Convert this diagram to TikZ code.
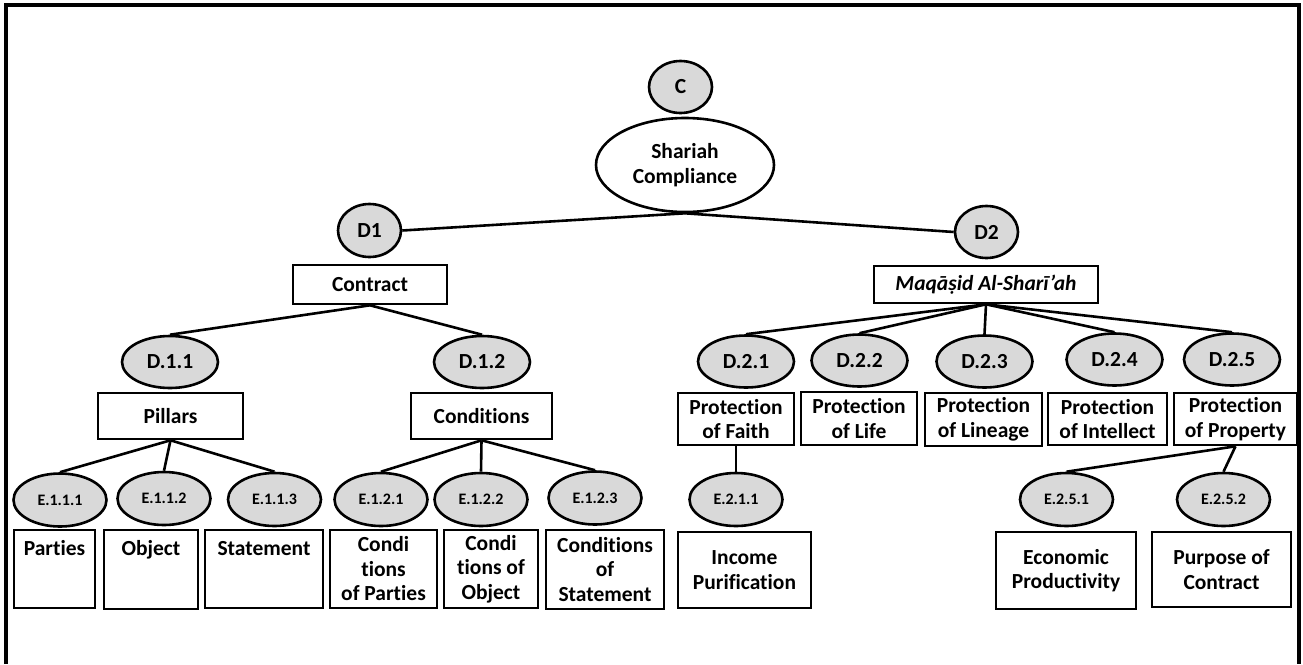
\documentclass[tikz,border=0pt]{standalone}
\usepackage{fontspec}
\setmainfont[Ligatures=CommonOff]{Carlito}
\usetikzlibrary{shapes.geometric}

\begin{document}
\begin{tikzpicture}[x=1pt,y=-1pt,
		every node/.style={font=\bfseries\fontsize{21.5}{24.5}\selectfont,line width=2.6pt,inner sep=1pt},
		code/.style={draw,ellipse,fill=codegray,minimum width=96pt,minimum height=52pt},
		small/.style={code,minimum width=93pt,minimum height=53pt,font=\bfseries\fontsize{16}{19}\selectfont},
		box/.style={draw,rectangle,align=center},
		toptext/.style={text height=19pt,text depth=47pt,inner sep=6pt},
		link/.style={line width=2.6pt}]
		\definecolor{codegray}{HTML}{D9D9D9}
		\useasboundingbox (0,0) rectangle (1303,664);
		% frame
		\draw[line width=3.6pt] (6,664) -- (6,5) -- (1299,5) -- (1299,664);
		% top
		\node[code,minimum width=63pt,minimum height=52pt] (c) at (680.5,87) {C};
		\node[draw,ellipse,align=center,minimum width=178pt,minimum height=94pt] (sc) at (685,165) {Shariah\\Compliance};
		\node[code,minimum width=63pt,minimum height=53pt] (d1) at (369.5,230.5) {D1};
		\node[code,minimum width=63pt,minimum height=52pt] (d2) at (986.5,232) {D2};
		\node[box,minimum width=154pt,minimum height=39pt] (contract) at (370,284.5) {Contract};
		\node[box,minimum width=224pt,minimum height=37pt] (maqasid) at (986,284.5) {\itshape Maqāṣid Al-Sharī’ah};
		% Contract
		\node[code] (d11) at (170,362) {D.1.1};
		\node[code] (d12) at (482,362) {D.1.2};
		\node[box,minimum width=145pt,minimum height=46pt] (pillars) at (170.5,416) {Pillars};
		\node[box,minimum width=141pt,minimum height=46pt] (conds) at (481.5,416) {Conditions};
		\node[small] (e111) at (60,500) {E.1.1.1};
		\node[small] (e112) at (164,498.5) {E.1.1.2};
		\node[small] (e113) at (274.5,499.5) {E.1.1.3};
		\node[small] (e121) at (381,499.5) {E.1.2.1};
		\node[small] (e122) at (481,499.5) {E.1.2.2};
		\node[small] (e123) at (595,498) {E.1.2.3};
		\node[box,toptext,minimum width=81pt,minimum height=76pt] (parties) at (54.5,569) {Parties};
		\node[box,toptext,minimum width=94pt,minimum height=79pt] (object) at (151,569.5) {Object};
		\node[box,toptext,minimum width=118pt,minimum height=78pt] (statement) at (264,569) {Statement};
		\node[box,minimum width=107pt,minimum height=78pt] (condparties) at (383.5,569) {Condi\\tions\\of Parties};
		\node[box,minimum width=94pt,minimum height=78pt] (condobject) at (491,569) {Condi\\tions of\\Object};
		\node[box,minimum width=118pt,minimum height=79pt] (condstatement) at (605,569.5) {Conditions\\of\\Statement};
		% Maqasid
		\node[code] (d21) at (746,361.5) {D.2.1};
		\node[code] (d22) at (859.5,360.5) {D.2.2};
		\node[code] (d23) at (984.5,361.5) {D.2.3};
		\node[code] (d24) at (1114.5,359.5) {D.2.4};
		\node[code] (d25) at (1232,359.5) {D.2.5};
		\node[box,minimum width=116pt,minimum height=52pt] (faith) at (736,419) {Protection\\of Faith};
		\node[box,minimum width=116pt,minimum height=53pt] (life) at (859,418.5) {Protection\\of Life};
		\node[box,minimum width=117pt,minimum height=53pt] (lineage) at (983.5,419.5) {Protection\\of Lineage};
		\node[box,minimum width=119pt,minimum height=52pt] (intellect) at (1107.5,419) {Protection\\of Intellect};
		\node[box,minimum width=123pt,minimum height=52pt] (property) at (1235.5,419) {Protection\\of Property};
		\node[small] (e211) at (736,499.5) {E.2.1.1};
		\node[small] (e251) at (1066.5,499.5) {E.2.5.1};
		\node[small] (e252) at (1223.5,499.5) {E.2.5.2};
		\node[box,minimum width=133pt,minimum height=76pt] (income) at (744.5,570) {Income\\Purification};
		\node[box,minimum width=140pt,minimum height=77pt] (economic) at (1066,570.5) {Economic\\Productivity};
		\node[box,minimum width=139pt,minimum height=75pt] (purpose) at (1221.5,569.5) {Purpose of\\Contract};
		% links
		\draw[link] (sc.south) -- (d1.east);
		\draw[link] (sc.south) -- (d2.west);
		\draw[link] (contract.south) -- (d11.north);
		\draw[link] (contract.south) -- (d12.north);
		\draw[link] (pillars.south) -- (e111.north);
		\draw[link] (pillars.south) -- (e112.north);
		\draw[link] (pillars.south) -- (e113.north);
		\draw[link] (conds.south) -- (e121.north);
		\draw[link] (conds.south) -- (e122.north);
		\draw[link] (conds.south) -- (e123.north);
		\draw[link] (maqasid.south) -- (d21.north);
		\draw[link] (maqasid.south) -- (d22.north);
		\draw[link] (maqasid.south) -- (d23.north);
		\draw[link] (maqasid.south) -- (d24.north);
		\draw[link] (maqasid.south) -- (d25.north);
		\draw[link] (faith.south) -- (e211.north);
		\draw[link] (property.south) -- (e251.north);
		\draw[link] (property.south) -- (e252.north);
\end{tikzpicture}
\end{document}
